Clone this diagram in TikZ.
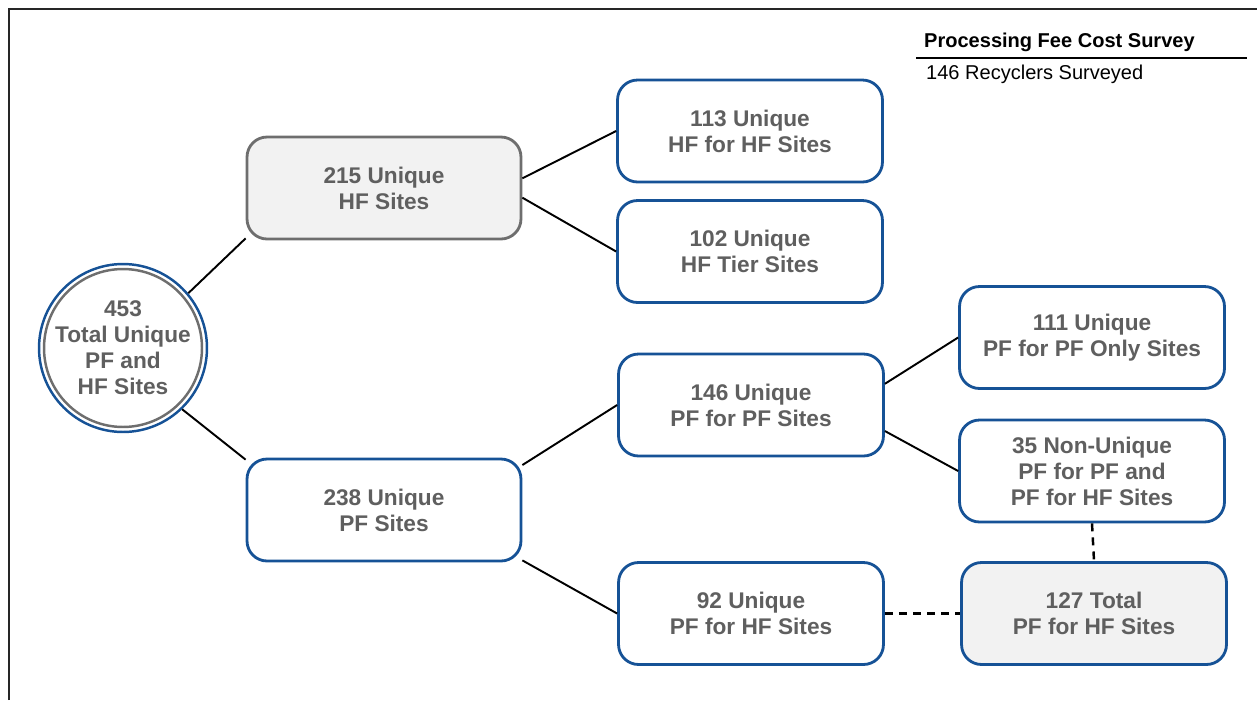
\documentclass[tikz,border=0pt]{standalone}
\usepackage{fontspec}
\setmainfont{Liberation Sans}
\usepackage{tikz}
\usetikzlibrary{positioning}
\definecolor{boxblue}{RGB}{22,82,150}
\definecolor{txtgray}{RGB}{95,95,95}
\definecolor{boxgray}{RGB}{110,110,110}
\definecolor{fillgray}{RGB}{242,242,242}

\begin{document}
\begin{tikzpicture}[x=0.02cm,y=-0.02cm,
  site/.style={draw=boxblue, line width=1.6pt, rounded corners=0.4cm, fill=white,
    minimum width=5.3cm, minimum height=2.04cm, inner sep=0pt, align=center,
    text=txtgray, font=\fontsize{12.9}{14.8}\selectfont\bfseries},
  wide/.style={site, minimum width=5.48cm},
  shaded/.style={fill=fillgray},
  ring/.style={circle, inner sep=0pt, line width=1.4pt},
  link/.style={line width=1.1pt},
  tie/.style={line width=1.4pt, dash pattern=on 4.5pt off 3.5pt}]
\useasboundingbox (0,0) rectangle (1257,700);
\draw[line width=1.1pt, black!85] (9,700) -- (9,9) -- (1257,9);

% survey header
\node[anchor=base west, font=\fontsize{11.4}{13}\selectfont\bfseries] (hdr) at (918,47) {Processing Fee Cost Survey};
\draw[line width=0.8pt] (916,58) -- (1247,58);
\node[anchor=base west, font=\fontsize{11.4}{13}\selectfont] (sub) at (920,79) {146 Recyclers Surveyed};

% total
\node[ring, draw=boxblue, minimum size=3.36cm] (totring) at (123,348) {};
\node[ring, draw=boxgray, minimum size=3.16cm] (totin) at (123,348) {};
\node[align=center, text=txtgray, font=\fontsize{12.9}{14.8}\selectfont\bfseries] (tot) at (123,348)
  {453\\Total Unique\\PF and\\HF Sites};

% second level
\node[wide, draw=boxgray, shaded] (hf) at (384,188) {215 Unique\\HF Sites};
\node[wide] (pf) at (384,510) {238 Unique\\PF Sites};

% third level
\node[site] (hfhf) at (750,131) {113 Unique\\HF for HF Sites};
\node[site] (hftier) at (750,251.5) {102 Unique\\HF Tier Sites};
\node[site] (pfpf) at (751,405) {146 Unique\\PF for PF Sites};
\node[site] (pfhf) at (751,613.5) {92 Unique\\PF for HF Sites};

% fourth level
\node[site] (pfonly) at (1092,337.5) {111 Unique\\PF for PF Only Sites};
\node[site] (nonuniq) at (1092,471) {35 Non-Unique\\PF for PF and\\PF for HF Sites};
\node[site, shaded] (pftotal) at (1094,613.5) {127 Total\\PF for HF Sites};

\draw[link] (totring.40) -- (hf.200);
\draw[link] (totring.-46) -- (pf.160);
\draw[link] (hf.4.6) -- (hfhf.west);
\draw[link] (hf.-4.9) -- (hftier.west);
\draw[link] (pf.18) -- (pfpf.west);
\draw[link] (pf.-20) -- (pfhf.west);
\draw[link] (pfpf.9) -- (pfonly.west);
\draw[link] (pfpf.-11.5) -- (nonuniq.west);
\draw[tie] (pfhf.east) -- (pftotal.west);
\draw[tie] (nonuniq.south) -- (pftotal.north);
\end{tikzpicture}
\end{document}
